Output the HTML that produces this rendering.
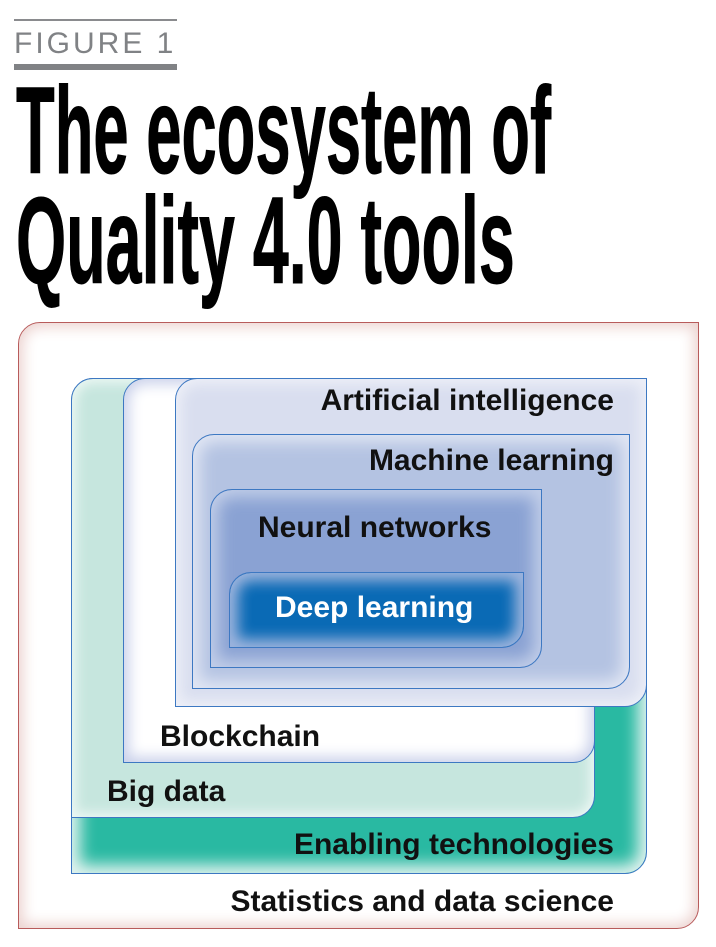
<!DOCTYPE html>
<html><head><meta charset="utf-8"><style>
*{margin:0;padding:0;box-sizing:border-box}
body{width:716px;height:947px;background:#fff;position:relative;overflow:hidden;font-family:"Liberation Sans",sans-serif}
.b{position:absolute;border:1.5px solid #3d78c2;border-radius:22px 0 22px 0}
.l{position:absolute;font-weight:bold;font-size:30px;color:#111;white-space:nowrap;line-height:30px}
.t{position:absolute;left:16px;font-weight:bold;font-size:123px;line-height:110px;transform:scaleX(0.515);transform-origin:left top;white-space:nowrap;color:#000;-webkit-text-stroke:1px #000}
</style></head><body>
<div style="position:absolute;left:14px;top:19px;width:163px;height:2px;background:#8a8b8e"></div>
<div style="position:absolute;left:14px;top:26px;font-size:30px;letter-spacing:3px;color:#808285;line-height:36px">FIGURE 1</div>
<div style="position:absolute;left:14px;top:64px;width:163px;height:6px;background:#808285"></div>
<div class="t" style="top:77px">The ecosystem of</div>
<div class="t" style="top:187px;transform:scaleX(0.525)">Quality 4.0 tools</div>

<div class="b" style="left:18px;top:322px;width:681px;height:607px;border-color:#b85b5b;background:#fff;box-shadow:inset 0 0 14px 4px #ecd2cf"></div>
<div class="b" style="left:71px;top:378px;width:576px;height:496px;background:#29b9a2;box-shadow:inset 0 0 16px 8px #e6f4f1"></div>
<div class="b" style="left:71px;top:378px;width:524px;height:440px;background:#c6e6de;box-shadow:inset 0 0 12px 4px #eef8f5"></div>
<div class="b" style="left:123px;top:378px;width:472px;height:385px;background:#fff;box-shadow:inset 0 0 14px 5px #c9d0ea"></div>
<div class="b" style="left:175px;top:378px;width:472px;height:329px;background:#d9deef;box-shadow:inset 0 0 14px 5px #eef0f8"></div>
<div class="b" style="left:192px;top:434px;width:438px;height:255px;background:#b4c3e2;box-shadow:inset 0 0 16px 7px #e2e7f4"></div>
<div class="b" style="left:210px;top:489px;width:332px;height:179px;background:#8aa2d3;box-shadow:inset 0 0 16px 7px #c3cfe9"></div>
<div class="b" style="left:229px;top:572px;width:295px;height:76px;background:#0a6ab5;box-shadow:inset 0 0 14px 8px #9fb5de"></div>

<div class="l" style="right:102px;top:386px">Artificial intelligence</div>
<div class="l" style="right:102px;top:446px">Machine learning</div>
<div class="l" style="left:258px;top:513px">Neural networks</div>
<div class="l" style="left:275px;top:593px;color:#fff">Deep learning</div>
<div class="l" style="left:160px;top:722px">Blockchain</div>
<div class="l" style="left:107px;top:777px">Big data</div>
<div class="l" style="right:102px;top:830px">Enabling technologies</div>
<div class="l" style="right:102px;top:887px">Statistics and data science</div>
</body></html>
